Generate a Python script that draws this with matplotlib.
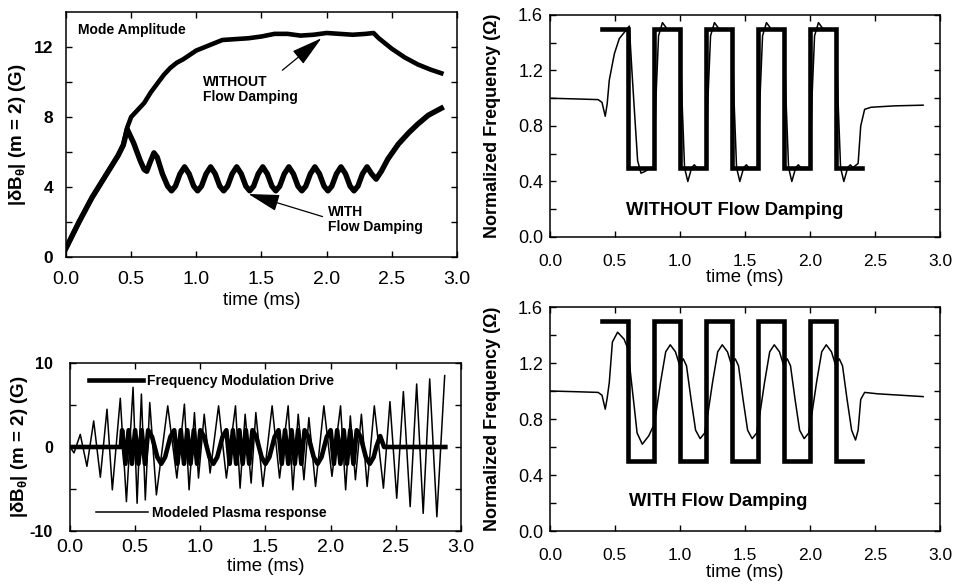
import matplotlib
matplotlib.use("Agg")
import matplotlib.pyplot as plt

plt.rcParams['font.family'] = ['Liberation Sans', 'DejaVu Sans']
plt.rcParams['mathtext.fontset'] = 'custom'
plt.rcParams['mathtext.rm'] = 'Liberation Sans:bold'
plt.rcParams['mathtext.it'] = 'Liberation Sans:bold'
plt.rcParams['mathtext.bf'] = 'Liberation Sans:bold'

# ---- mode amplitude (top left) ----
amp_without_t = [0.0, 0.1, 0.2, 0.3, 0.4, 0.44, 0.47, 0.5, 0.55, 0.6, 0.65, 0.7, 0.75, 0.8,
                 0.85, 0.9, 1.0, 1.1, 1.2, 1.3, 1.4, 1.5, 1.6, 1.7, 1.8, 1.9, 2.0, 2.1,
                 2.2, 2.3, 2.36, 2.4, 2.45, 2.5, 2.6, 2.7, 2.8, 2.88]
amp_without = [0.5, 2.0, 3.4, 4.6, 5.8, 6.4, 7.4, 8.0, 8.4, 8.8, 9.4, 9.9, 10.4, 10.8,
               11.1, 11.3, 11.8, 12.1, 12.4, 12.45, 12.5, 12.6, 12.75, 12.75, 12.65, 12.7, 12.8, 12.75,
               12.7, 12.75, 12.8, 12.5, 12.2, 11.9, 11.4, 11.0, 10.7, 10.5]

amp_with_t = [0.0, 0.1, 0.2, 0.3, 0.4, 0.44, 0.47, 0.52, 0.57, 0.60, 0.62, 0.645, 0.675,
              0.70, 0.74, 0.78,
              0.81, 0.84, 0.875, 0.91, 0.945, 0.98,
              1.01, 1.04, 1.075, 1.11, 1.145, 1.18,
              1.21, 1.24, 1.275, 1.31, 1.345, 1.38,
              1.41, 1.44, 1.475, 1.51, 1.545, 1.58,
              1.61, 1.64, 1.675, 1.71, 1.745, 1.78,
              1.81, 1.84, 1.875, 1.91, 1.945, 1.98,
              2.01, 2.04, 2.075, 2.11, 2.145, 2.18,
              2.21, 2.24, 2.275, 2.31, 2.345, 2.38,
              2.42, 2.47, 2.55, 2.63, 2.70, 2.78, 2.88]
amp_with = [0.5, 2.0, 3.4, 4.6, 5.8, 6.4, 7.3, 6.5, 5.5, 5.0, 4.9, 5.4, 5.95,
            5.7, 4.75, 4.05,
            3.78, 4.05, 4.75, 5.15, 4.75, 4.05,
            3.78, 4.05, 4.75, 5.15, 4.75, 4.05,
            3.78, 4.05, 4.75, 5.15, 4.75, 4.05,
            3.78, 4.05, 4.75, 5.15, 4.75, 4.05,
            3.78, 4.05, 4.75, 5.15, 4.75, 4.05,
            3.78, 4.05, 4.75, 5.15, 4.75, 4.05,
            3.78, 4.05, 4.75, 5.15, 4.75, 4.05,
            3.78, 4.05, 4.75, 5.15, 4.75, 4.45,
            4.9, 5.6, 6.45, 7.1, 7.6, 8.1, 8.5]

# ---- square-wave frequency drive (right panels) ----
drive_sq_t = [0.4, 0.6, 0.6, 0.8, 0.8, 1.0, 1.0, 1.2, 1.2, 1.4, 1.4, 1.6, 1.6, 1.8, 1.8,
              2.0, 2.0, 2.2, 2.2, 2.4]
drive_sq = [1.5, 1.5, 0.5, 0.5, 1.5, 1.5, 0.5, 0.5, 1.5, 1.5, 0.5, 0.5, 1.5, 1.5, 0.5,
            0.5, 1.5, 1.5, 0.5, 0.5]

# plasma frequency without flow damping (top right)
freq_without_t = [0.0, 0.2, 0.37, 0.40, 0.425, 0.44, 0.456, 0.495, 0.533, 0.585, 0.61,
                  0.63, 0.65, 0.674, 0.70, 0.725, 0.78,
                  0.80, 0.815, 0.835, 0.865, 0.90, 1.0, 1.015, 1.035, 1.06, 1.09, 1.11, 1.13,
                  1.20, 1.215, 1.235, 1.265, 1.30, 1.4, 1.415, 1.435, 1.46, 1.49, 1.51, 1.53,
                  1.60, 1.615, 1.635, 1.665, 1.70, 1.8, 1.815, 1.835, 1.86, 1.89, 1.91, 1.93,
                  2.00, 2.015, 2.035, 2.065, 2.10, 2.2, 2.215, 2.235, 2.26, 2.29, 2.31, 2.33,
                  2.37, 2.39, 2.42, 2.47, 2.65, 2.87]
freq_without = [1.0, 0.995, 0.99, 0.97, 0.87, 0.96, 1.13, 1.32, 1.43, 1.49, 1.52,
                1.2, 0.9, 0.55, 0.46, 0.47, 0.5,
                0.5, 1.0, 1.45, 1.545, 1.5, 1.5, 1.0, 0.5, 0.40, 0.5, 0.52, 0.5,
                0.5, 1.0, 1.45, 1.545, 1.5, 1.5, 1.0, 0.5, 0.40, 0.5, 0.52, 0.5,
                0.5, 1.0, 1.45, 1.545, 1.5, 1.5, 1.0, 0.5, 0.40, 0.5, 0.52, 0.5,
                0.5, 1.0, 1.45, 1.545, 1.5, 1.5, 1.0, 0.5, 0.40, 0.5, 0.52, 0.5,
                0.53, 0.8, 0.92, 0.935, 0.945, 0.95]

# plasma frequency with flow damping (bottom right)
freq_with_t = [0.0, 0.2, 0.37, 0.40, 0.425, 0.44, 0.456, 0.48, 0.52, 0.57, 0.60, 0.62, 0.65,
               0.67, 0.71, 0.76, 0.79,
               0.80, 0.815, 0.85, 0.89, 0.925, 0.965, 0.995, 1.025, 1.05, 1.085, 1.12, 1.155, 1.19,
               1.20, 1.215, 1.25, 1.29, 1.325, 1.365, 1.395, 1.425, 1.45, 1.485, 1.52, 1.555, 1.59,
               1.60, 1.615, 1.65, 1.69, 1.725, 1.765, 1.795, 1.825, 1.85, 1.885, 1.92, 1.955, 1.99,
               2.00, 2.015, 2.05, 2.09, 2.125, 2.165, 2.195, 2.225, 2.25, 2.285, 2.32, 2.35, 2.37,
               2.39, 2.42, 2.52, 2.87]
freq_with = [1.0, 0.995, 0.99, 0.97, 0.87, 0.95, 1.06, 1.35, 1.42, 1.37, 1.3, 1.12, 0.87,
             0.70, 0.62, 0.68, 0.74,
             0.76, 0.84, 1.06, 1.28, 1.33, 1.28, 1.19, 1.23, 1.18, 0.94, 0.72, 0.66, 0.70,
             0.76, 0.84, 1.06, 1.28, 1.33, 1.28, 1.19, 1.23, 1.18, 0.94, 0.72, 0.66, 0.70,
             0.76, 0.84, 1.06, 1.28, 1.33, 1.28, 1.19, 1.23, 1.18, 0.94, 0.72, 0.66, 0.70,
             0.76, 0.84, 1.06, 1.28, 1.33, 1.28, 1.19, 1.23, 1.18, 0.94, 0.72, 0.65, 0.72,
             0.94, 0.99, 0.98, 0.96]

# ---- time traces (bottom left) ----
fm_drive_t = [0.0, 0.39,
              0.400, 0.425, 0.450, 0.475, 0.500, 0.525, 0.550, 0.575,
              0.600, 0.630, 0.650, 0.670, 0.700, 0.730, 0.750, 0.770,
              0.800, 0.825, 0.850, 0.875, 0.900, 0.925, 0.950, 0.975,
              1.000, 1.030, 1.050, 1.070, 1.100, 1.130, 1.150, 1.170,
              1.200, 1.225, 1.250, 1.275, 1.300, 1.325, 1.350, 1.375,
              1.400, 1.430, 1.450, 1.470, 1.500, 1.530, 1.550, 1.570,
              1.600, 1.625, 1.650, 1.675, 1.700, 1.725, 1.750, 1.775,
              1.800, 1.830, 1.850, 1.870, 1.900, 1.930, 1.950, 1.970,
              2.000, 2.025, 2.050, 2.075, 2.100, 2.125, 2.150, 2.175,
              2.200, 2.230, 2.250, 2.270, 2.300, 2.330, 2.350, 2.380,
              2.41, 2.88]
fm_drive = [0, 0,
            2, -2, 2, -2, 2, -2, 2, -2,
            2, 1.2, 0, -1.2, -2, -1.2, 0, 1.2,
            2, -2, 2, -2, 2, -2, 2, -2,
            2, 1.2, 0, -1.2, -2, -1.2, 0, 1.2,
            2, -2, 2, -2, 2, -2, 2, -2,
            2, 1.2, 0, -1.2, -2, -1.2, 0, 1.2,
            2, -2, 2, -2, 2, -2, 2, -2,
            2, 1.2, 0, -1.2, -2, -1.2, 0, 1.2,
            2, -2, 2, -2, 2, -2, 2, -2,
            2, 1.2, 0, -1.2, -2, -1.2, 0, 1.3,
            0, 0]

response_t = [0.0, 0.031, 0.079, 0.13, 0.182, 0.233, 0.284, 0.325, 0.386, 0.433, 0.484,
              0.515, 0.548, 0.578, 0.612, 0.663, 0.75, 0.82, 0.878, 0.914, 0.955, 0.986,
              1.03, 1.075, 1.14, 1.2, 1.27, 1.305, 1.344, 1.39, 1.426, 1.48, 1.551, 1.608,
              1.674, 1.71, 1.751, 1.795, 1.833, 1.884, 1.948, 2.01, 2.076, 2.115, 2.151,
              2.19, 2.236, 2.28, 2.335, 2.405, 2.455, 2.507, 2.558, 2.61, 2.66, 2.71, 2.76,
              2.815, 2.875]
response = [0.0, -0.7, 1.5, -2.3, 3.1, -3.6, 4.5, -5.1, 5.8, -6.5, 7.1,
            -6.7, 6.3, -6.3, 5.3, -5.7, 4.9, -3.7, 5.1, -5.1, 4.1, -3.7,
            3.9, -3.1, 4.9, -3.7, 4.9, -4.9, 3.9, -4.3, 4.1, -4.7, 4.9, -3.7,
            4.9, -5.1, 3.9, -3.9, 3.5, -4.7, 4.9, -3.5, 4.9, -5.1, 3.7,
            -3.9, 3.9, -4.7, 4.9, -4.9, 5.4, -6.1, 6.6, -7.1, 7.5, -7.9, 8.1,
            -8.3, 8.5]

time_ticks = [0.0, 0.5, 1.0, 1.5, 2.0, 2.5, 3.0]
time_labels = ['0.0', '0.5', '1.0', '1.5', '2.0', '2.5', '3.0']

fig = plt.figure(figsize=(9.56, 5.85), dpi=100)
ax_amp = fig.add_axes([0.069, 0.5607, 0.409, 0.4188])
ax_fwo = fig.add_axes([0.5753, 0.5949, 0.408, 0.3795])
ax_sig = fig.add_axes([0.0732, 0.0923, 0.409, 0.2872])
ax_fw = fig.add_axes([0.5753, 0.0923, 0.408, 0.3829])

THICK = 3.3
THIN = 1.1


def style(ax, yticks, ylabels, ybold, xsize, xpad, ysize, ypad):
    ax.set_xlim(0, 3)
    ax.set_xticks(time_ticks)
    ax.set_xticklabels(time_labels, fontsize=xsize)
    ax.set_yticks(yticks)
    ax.set_yticklabels(ylabels, fontsize=ysize,
                       fontweight='bold' if ybold else 'normal')
    ax.tick_params(direction='in', top=True, right=True, length=4, width=1)
    ax.tick_params(axis='x', pad=xpad)
    ax.tick_params(axis='y', pad=ypad)
    for s in ax.spines.values():
        s.set_linewidth(1.1)


ylab = r'|$\delta$B$_\theta$| (m = 2) (G)'
arrow_style = '-|>,head_length=1.3,head_width=0.35'

# top left: mode amplitude
ax_amp.plot(amp_without_t, amp_without, color='black', lw=THICK, solid_joinstyle='round')
ax_amp.plot(amp_with_t, amp_with, color='black', lw=THICK + 0.6, solid_joinstyle='round')
ax_amp.set_ylim(0, 14)
style(ax_amp, [0, 2, 4, 6, 8, 10, 12], ['0', '', '4', '', '8', '', '12'], True,
      14, 10, 12.5, 9.4)
ax_amp.set_xlabel('time (ms)', fontsize=13.4, labelpad=3)
ax_amp.set_ylabel(ylab, fontsize=13.5, fontweight='bold', labelpad=4)
ax_amp.text(0.095, 12.95, 'Mode Amplitude', fontsize=10, fontweight='bold', va='center')
ax_amp.annotate('WITHOUT\nFlow Damping', xy=(1.96, 12.5), xytext=(1.05, 8.75),
                fontsize=10, fontweight='bold', ha='left', va='bottom', linespacing=1.1,
                arrowprops=dict(arrowstyle=arrow_style, color='black', lw=0.9,
                                mutation_scale=15, relpos=(0.78, 1.0), shrinkA=2, shrinkB=0))
ax_amp.annotate('WITH\nFlow Damping', xy=(1.40, 3.6), xytext=(2.01, 1.3),
                fontsize=10, fontweight='bold', ha='left', va='bottom', linespacing=1.1,
                arrowprops=dict(arrowstyle=arrow_style, color='black', lw=0.9,
                                mutation_scale=15, relpos=(0.0, 0.55), shrinkA=2, shrinkB=0))

freq_ticks = [0.0, 0.2, 0.4, 0.6, 0.8, 1.0, 1.2, 1.4, 1.6]
freq_labels = ['0.0', '', '0.4', '', '0.8', '', '1.2', '', '1.6']

# top right: frequency without flow damping
ax_fwo.plot(drive_sq_t, drive_sq, color='black', lw=THICK, solid_joinstyle='miter')
ax_fwo.plot(freq_without_t, freq_without, color='black', lw=THIN)
ax_fwo.set_ylim(0, 1.6)
style(ax_fwo, freq_ticks, freq_labels, False, 12.5, 12.5, 13, 5)
ax_fwo.set_xlabel('time (ms)', fontsize=13.4, labelpad=0)
ax_fwo.set_ylabel('Normalized Frequency (\u03a9)', fontsize=13, fontweight='bold', labelpad=12)
ax_fwo.text(1.42, 0.19, 'WITHOUT Flow Damping', fontsize=13.3, fontweight='bold',
            ha='center', va='center')

# bottom right: frequency with flow damping
ax_fw.plot(drive_sq_t, drive_sq, color='black', lw=THICK, solid_joinstyle='miter')
ax_fw.plot(freq_with_t, freq_with, color='black', lw=THIN)
ax_fw.set_ylim(0, 1.6)
style(ax_fw, freq_ticks, freq_labels, False, 12.5, 12.5, 13, 5)
ax_fw.set_xlabel('time (ms)', fontsize=13.4, labelpad=0.5)
ax_fw.set_ylabel('Normalized Frequency (\u03a9)', fontsize=13, fontweight='bold', labelpad=12)
ax_fw.text(1.29, 0.21, 'WITH Flow Damping', fontsize=13.3, fontweight='bold',
           ha='center', va='center')

# bottom left: drive and plasma response
l_drive, = ax_sig.plot(fm_drive_t, fm_drive, color='black', lw=THICK)
l_resp, = ax_sig.plot(response_t, response, color='black', lw=THIN)
ax_sig.set_ylim(-10, 10)
style(ax_sig, [-10, -5, 0, 5, 10], ['-10', '', '0', '', '10'], True, 14, 5.4, 11.5, 12.2)
ax_sig.set_xlabel('time (ms)', fontsize=13.4, labelpad=1.5)
ax_sig.set_ylabel(ylab, fontsize=13.5, fontweight='bold', labelpad=0)
leg1 = ax_sig.legend([l_drive], ['Frequency Modulation Drive'], loc='upper left',
                     bbox_to_anchor=(0.017, 1.01), frameon=False, handlelength=3.9,
                     handletextpad=0.3, prop={'weight': 'bold', 'size': 10})
ax_sig.add_artist(leg1)
ax_sig.legend([l_resp], ['Modeled Plasma response'], loc='lower left',
              bbox_to_anchor=(0.035, -0.01), frameon=False, handlelength=3.7,
              handletextpad=0.35, prop={'weight': 'bold', 'size': 10})

fig.savefig('out.png', dpi=100)
